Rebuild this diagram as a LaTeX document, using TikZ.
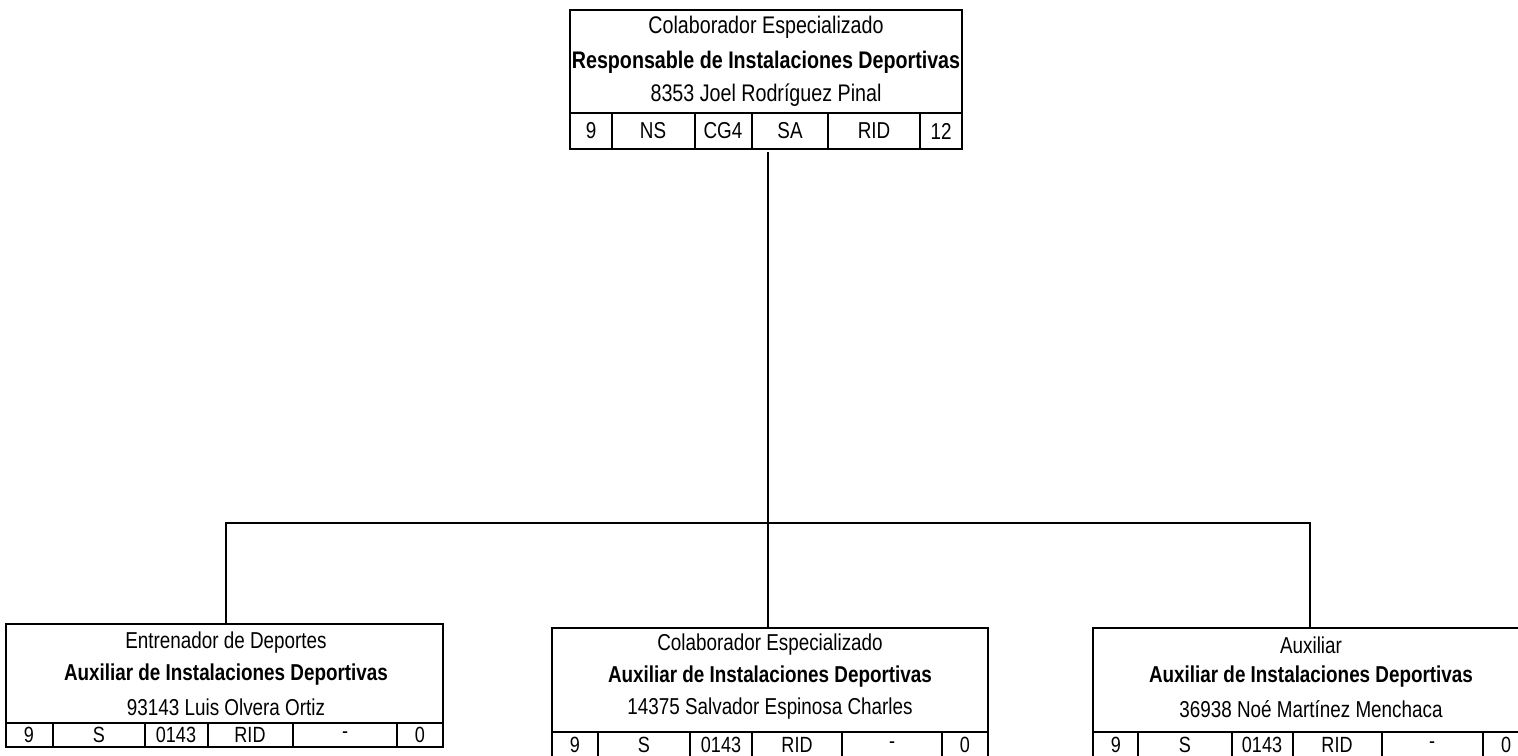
\documentclass[tikz,border=0pt]{standalone}
\usepackage{fontspec}
\setmainfont{Liberation Sans}[FakeStretch=0.82]
\begin{document}
\begin{tikzpicture}[x=1pt,y=-1pt,
  orgbox/.style={draw, line width=2pt, inner sep=0pt, outer sep=0pt, anchor=north west},
  cellline/.style={line width=1.8pt},
  conn/.style={line width=1.8pt},
  bigtxt/.style={inner sep=0pt, font=\fontsize{24}{28}\selectfont},
  bigbold/.style={inner sep=0pt, font=\fontsize{24}{28}\selectfont\bfseries},
  smalltxt/.style={inner sep=0pt, font=\fontsize{23}{26}\selectfont},
  smallbold/.style={inner sep=0pt, font=\fontsize{23}{26}\selectfont\bfseries},
  celltxt/.style={inner sep=0pt, font=\fontsize{23}{26}\selectfont},
  scelltxt/.style={inner sep=0pt, font=\fontsize{22}{25}\selectfont}]
\useasboundingbox (0,0) rectangle (1518,755);
\clip (0,0) rectangle (1518,755);
% ---- top box
\node[orgbox, minimum width=392pt, minimum height=139pt] (top) at (570,10) {};
\node[bigtxt] (t1) at (766,27) {Colaborador Especializado};
\node[bigbold] (t2) at (766,62) {Responsable de Instalaciones Deportivas};
\node[bigtxt] (t3) at (766,95) {8353 Joel Rodríguez Pinal};
\draw[cellline] (570,113) -- (962,113);
\foreach \x in {612,695,752,828,920} \draw[cellline] (\x,113) -- (\x,149);
\node[celltxt] (tc1) at (591,131) {9};
\node[celltxt] (tc2) at (653,131) {NS};
\node[celltxt] (tc3) at (723,131) {CG4};
\node[celltxt] (tc4) at (790,131) {SA};
\node[celltxt] (tc5) at (874,131) {RID};
\node[celltxt] (tc6) at (941,131) {12};
% ---- left box
\node[orgbox, minimum width=437pt, minimum height=123pt] (lb) at (6,624) {};
\node[smalltxt] (l1) at (226,643) {Entrenador de Deportes};
\node[smallbold] (l2) at (226,675) {Auxiliar de Instalaciones Deportivas};
\node[smalltxt] (l3) at (226,707) {93143 Luis Olvera Ortiz};
\draw[cellline] (6,723) -- (443,723);
\foreach \x in {53,145,208,293,397} \draw[cellline] (\x,723) -- (\x,747);
\node[scelltxt] (lc1) at (29,735) {9};
\node[scelltxt] (lc2) at (99,735) {S};
\node[scelltxt] (lc3) at (176,735) {0143};
\node[scelltxt] (lc4) at (250,735) {RID};
\node[scelltxt] (lc5) at (345,735) {-};
\node[scelltxt] (lc6) at (420,735) {0};
% ---- middle box
\node[orgbox, minimum width=436pt, minimum height=130pt] (mb) at (552,628) {};
\node[smalltxt] (m1) at (770,645) {Colaborador Especializado};
\node[smallbold] (m2) at (770,677) {Auxiliar de Instalaciones Deportivas};
\node[smalltxt] (m3) at (770,709) {14375 Salvador Espinosa Charles};
\draw[cellline] (552,732) -- (988,732);
\foreach \x in {598,690,752,842,942} \draw[cellline] (\x,732) -- (\x,758);
\node[scelltxt] (mc1) at (575,745) {9};
\node[scelltxt] (mc2) at (644,745) {S};
\node[scelltxt] (mc3) at (721,745) {0143};
\node[scelltxt] (mc4) at (797,745) {RID};
\node[scelltxt] (mc5) at (892,745) {-};
\node[scelltxt] (mc6) at (965,745) {0};
% ---- right box
\node[orgbox, minimum width=436pt, minimum height=130pt] (rb) at (1093,628) {};
\node[smalltxt] (r1) at (1311,645) {Auxiliar};
\node[smallbold] (r2) at (1311,677) {Auxiliar de Instalaciones Deportivas};
\node[smalltxt] (r3) at (1311,709) {36938 Noé Martínez Menchaca};
\draw[cellline] (1093,732) -- (1529,732);
\foreach \x in {1138,1232,1293,1382,1483} \draw[cellline] (\x,732) -- (\x,758);
\node[scelltxt] (rc1) at (1116,745) {9};
\node[scelltxt] (rc2) at (1185,745) {S};
\node[scelltxt] (rc3) at (1262,745) {0143};
\node[scelltxt] (rc4) at (1337,745) {RID};
\node[scelltxt] (rc5) at (1432,745) {-};
\node[scelltxt] (rc6) at (1506,745) {0};
% ---- connectors
\coordinate (topfoot) at (768,152);
\coordinate (lj) at (226,523);
\coordinate (rj) at (1310,523);
\coordinate (ltop) at (226,624);
\coordinate (mtop) at (768,628);
\coordinate (rtop) at (1310,628);
\draw[conn] (topfoot) -- (mtop);
\draw[conn] (ltop) -- (lj) -- (rj) -- (rtop);
\end{tikzpicture}
\end{document}
